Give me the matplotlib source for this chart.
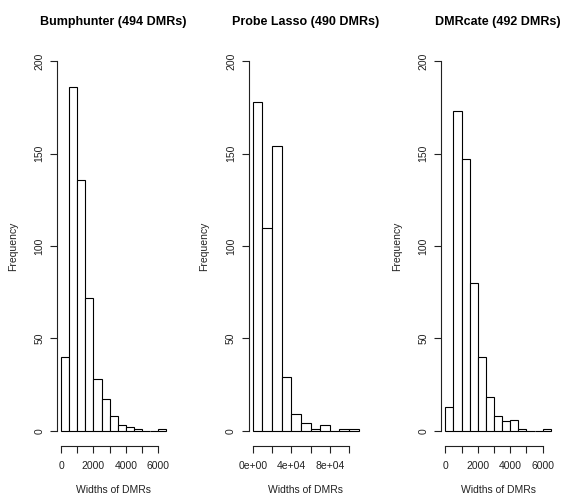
import numpy as np
import matplotlib
matplotlib.use("Agg")
from matplotlib import pyplot as plt

plt.rcParams['font.family'] = ['Liberation Sans', 'DejaVu Sans']

# histogram counts per method (bin starts at 0)
titles = ["Bumphunter (494 DMRs)", "Probe Lasso (490 DMRs)", "DMRcate (492 DMRs)"]
bump_counts = [40, 186, 136, 72, 28, 17, 8, 3, 2, 1, 0, 0, 1]
lasso_counts = [178, 110, 154, 29, 9, 4, 1, 3, 0, 1, 1]
dmrcate_counts = [13, 173, 147, 80, 40, 18, 8, 5, 6, 1, 0, 0, 1]
bin_widths = [500, 10000, 500]
xticks = [[0, 1000, 2000, 3000, 4000, 5000, 6000],
          [0, 20000, 40000, 60000, 80000, 100000],
          [0, 1000, 2000, 3000, 4000, 5000, 6000]]
xticklabels = [["0", "", "2000", "", "4000", "", "6000"],
               ["0e+00", "", "4e+04", "", "8e+04", ""],
               ["0", "", "2000", "", "4000", "", "6000"]]
yticks = [0, 50, 100, 150, 200]

W, H = 563, 497
fig = plt.figure(figsize=(W / 100, H / 100), dpi=100)

# plot regions in pixels (left, right); shared top/bottom
regions = [(56.8, 170.5), (248.5, 363.0), (441.1, 555.0)]
top_px, bottom_px = 46.5, 445.5

for i, counts in enumerate([bump_counts, lasso_counts, dmrcate_counts]):
    l, r = regions[i]
    ax = fig.add_axes([l / W, 1 - bottom_px / H, (r - l) / W, (bottom_px - top_px) / H])
    bw = bin_widths[i]
    edges = np.arange(len(counts) + 1) * bw
    ax.bar(edges[:-1], counts, width=bw, align='edge',
           facecolor='white', edgecolor='black', linewidth=0.8)

    span = edges[-1] - edges[0]
    ax.set_xlim(edges[0] - 0.04 * span, edges[-1] + 0.04 * span)
    ax.set_ylim(-8, 208)

    for s in ['top', 'right']:
        ax.spines[s].set_visible(False)
    ax.spines['left'].set_bounds(0, 200)
    ax.spines['bottom'].set_bounds(xticks[i][0], xticks[i][-1])
    for s in ['left', 'bottom']:
        ax.spines[s].set_linewidth(0.8)
        ax.spines[s].set_color('#222222')

    ax.set_xticks(xticks[i])
    ax.set_xticklabels(xticklabels[i])
    ax.set_yticks(yticks)
    ax.set_yticklabels([str(v) for v in yticks], rotation=90, va='center')
    ax.tick_params(axis='both', length=5, width=0.8, color='#222222',
                   labelsize=7.5, labelcolor='#222222')
    ax.tick_params(axis='x', pad=6)
    ax.tick_params(axis='y', pad=4)

    ax.set_xlabel("Widths of DMRs", fontsize=7.5, color='#222222')
    ax.xaxis.set_label_coords(0.5, -(490 - bottom_px) / (bottom_px - top_px))
    ax.set_ylabel("Frequency", fontsize=7.5, color='#222222')
    ax.yaxis.set_label_coords(-44 / (r - l), 0.5)
    for lab in [ax.xaxis.label, ax.yaxis.label]:
        lab.set_va('center')

    fig.text((l + r) / 2 / W, 1 - 22 / H, titles[i], ha='center', va='center',
             fontsize=9, fontweight='bold')

fig.savefig("out.png", dpi=100)
